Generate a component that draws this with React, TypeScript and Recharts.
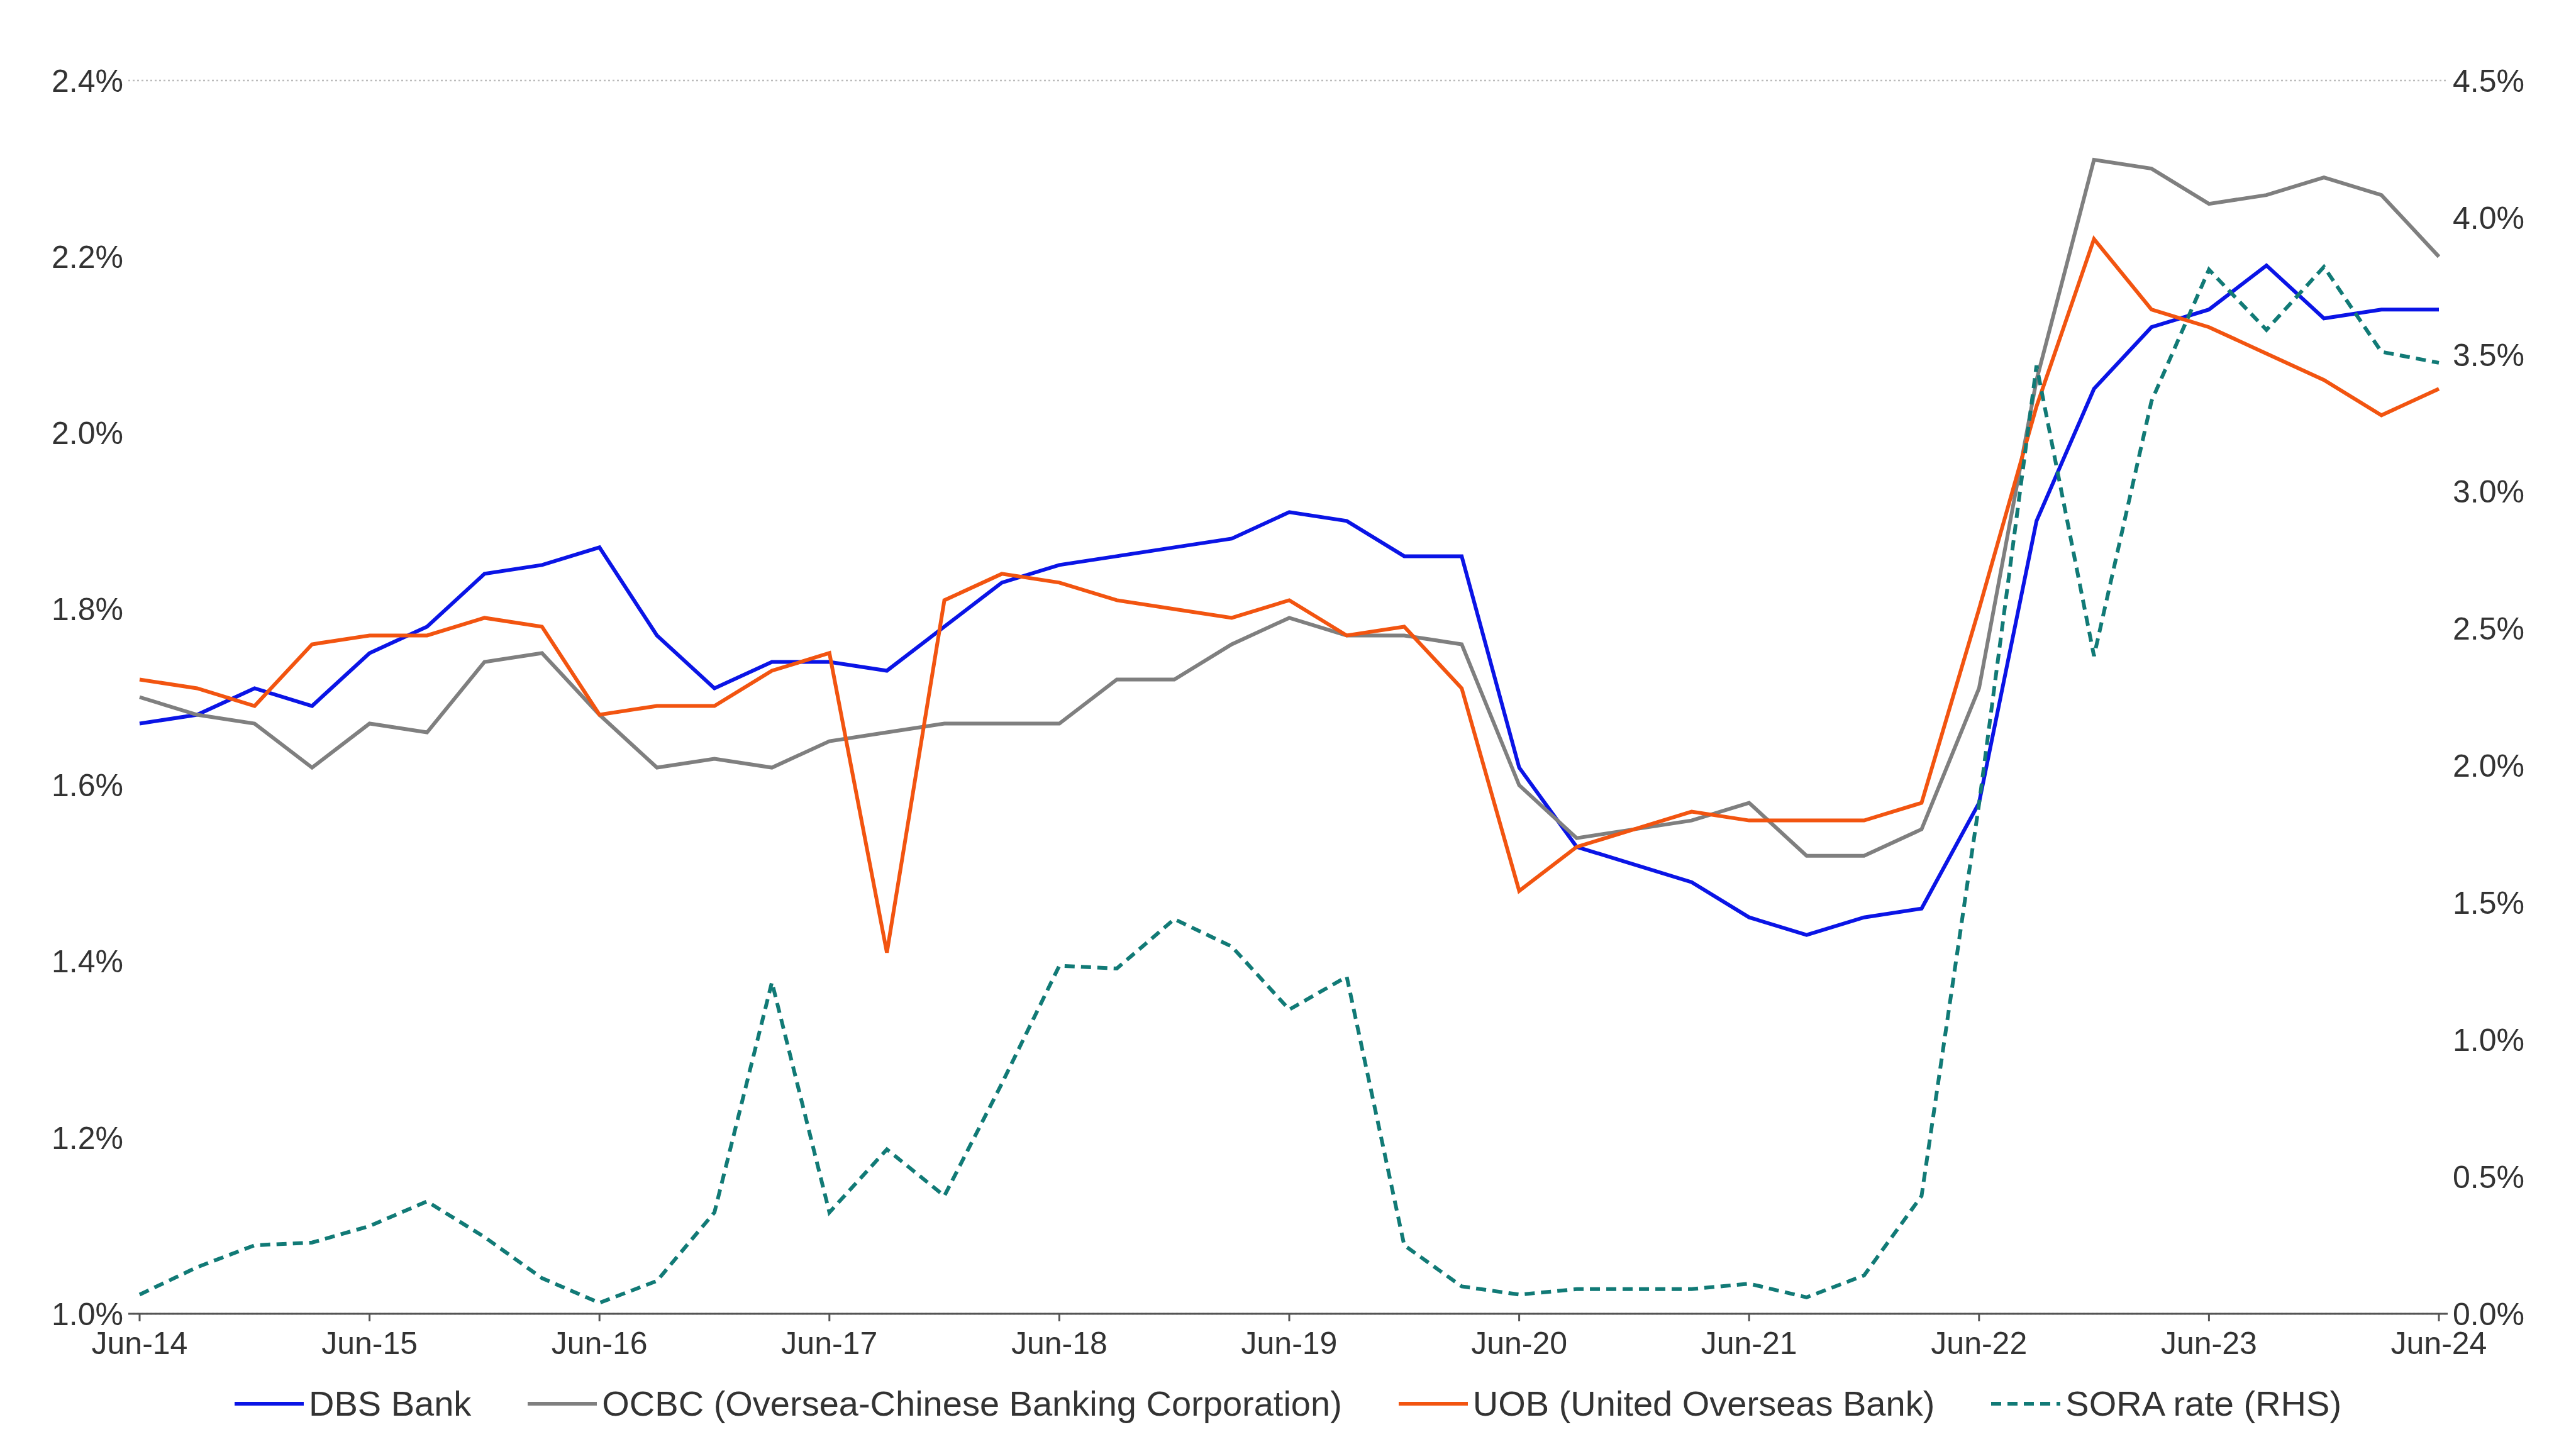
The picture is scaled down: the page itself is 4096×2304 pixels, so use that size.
import { CartesianGrid, Legend, Line, LineChart, XAxis, YAxis } from "recharts";

const labels = [
  "Jun-14","Sep-14","Dec-14","Mar-15","Jun-15","Sep-15","Dec-15","Mar-16","Jun-16","Sep-16","Dec-16",
  "Mar-17","Jun-17","Sep-17","Dec-17","Mar-18","Jun-18","Sep-18","Dec-18","Mar-19","Jun-19","Sep-19",
  "Dec-19","Mar-20","Jun-20","Sep-20","Dec-20","Mar-21","Jun-21","Sep-21","Dec-21","Mar-22","Jun-22",
  "Sep-22","Dec-22","Mar-23","Jun-23","Sep-23","Dec-23","Mar-24","Jun-24",
];
const dbs = [1.67,1.68,1.71,1.69,1.75,1.78,1.84,1.85,1.87,1.77,1.71,1.74,1.74,1.73,1.78,1.83,1.85,1.86,1.87,1.88,1.91,1.9,1.86,1.86,1.62,1.53,1.51,1.49,1.45,1.43,1.45,1.46,1.58,1.9,2.05,2.12,2.14,2.19,2.13,2.14,2.14];
const ocbc = [1.7,1.68,1.67,1.62,1.67,1.66,1.74,1.75,1.68,1.62,1.63,1.62,1.65,1.66,1.67,1.67,1.67,1.72,1.72,1.76,1.79,1.77,1.77,1.76,1.6,1.54,1.55,1.56,1.58,1.52,1.52,1.55,1.71,2.06,2.31,2.3,2.26,2.27,2.29,2.27,2.2];
const uob = [1.72,1.71,1.69,1.76,1.77,1.77,1.79,1.78,1.68,1.69,1.69,1.73,1.75,1.41,1.81,1.84,1.83,1.81,1.8,1.79,1.81,1.77,1.78,1.71,1.48,1.53,1.55,1.57,1.56,1.56,1.56,1.58,1.8,2.03,2.22,2.14,2.12,2.09,2.06,2.02,2.05];
const sora = [0.07,0.17,0.25,0.26,0.32,0.41,0.28,0.13,0.04,0.12,0.37,1.21,0.37,0.6,0.43,0.84,1.27,1.26,1.44,1.34,1.11,1.23,0.25,0.1,0.07,0.09,0.09,0.09,0.11,0.06,0.14,0.43,1.86,3.46,2.4,3.33,3.81,3.59,3.82,3.51,3.47];
const leftTicks = [1.0,1.2,1.4,1.6,1.8,2.0,2.2,2.4];
const rightTicks = [0,0.5,1,1.5,2,2.5,3,3.5,4,4.5];

const series = [
  { key: "dbs", name: "DBS Bank", color: "#0a14e6", dash: undefined },
  { key: "ocbc", name: "OCBC (Oversea-Chinese Banking Corporation)", color: "#7f7f7f", dash: undefined },
  { key: "uob", name: "UOB (United Overseas Bank)", color: "#f25410", dash: undefined },
  { key: "sora", name: "SORA rate (RHS)", color: "#117a76", dash: "16 10" },
];

const data = labels.map((label, i) => ({ label, dbs: dbs[i], ocbc: ocbc[i], uob: uob[i], sora: sora[i] }));

const tick = { fill: "#333", fontSize: 50 };

function LegendRow() {
  return (
    <div style={{ display: "flex", justifyContent: "center", gap: 90, fontSize: 56, color: "#333" }}>
      {series.map((s) => (
        <div key={s.key} style={{ display: "flex", alignItems: "center", gap: 8 }}>
          <svg width={110} height={20}>
            <line x1={0} x2={110} y1={10} y2={10} stroke={s.color} strokeWidth={6} strokeDasharray={s.dash} />
          </svg>
          <span>{s.name}</span>
        </div>
      ))}
    </div>
  );
}

export default function App() {
  return (
    <div style={{ position: "absolute", left: 0, top: 0, width: 4096, height: 2304, background: "#fff", fontFamily: "'Liberation Sans', Arial, sans-serif" }}>
      <LineChart width={4096} height={2304} data={data} margin={{ top: 128, right: 10, bottom: 40, left: 10 }}>
        <CartesianGrid vertical={false} stroke="#bbbbbb" strokeDasharray="3 4" strokeWidth={2.5} />
        <XAxis dataKey="label" interval={3} tick={{ ...tick, dy: 14 }} tickSize={12} stroke="#555" strokeWidth={3} padding={{ left: 18, right: 14 }} height={110} />
        <YAxis yAxisId="l" domain={[1.0, 2.4]} ticks={leftTicks} tickFormatter={(v: number) => `${v.toFixed(1)}%`} tick={tick} axisLine={false} tickLine={false} width={194} />
        <YAxis yAxisId="r" orientation="right" domain={[0, 4.5]} ticks={rightTicks} tickFormatter={(v: number) => `${v.toFixed(1)}%`} tick={tick} axisLine={false} tickLine={false} width={194} />
        <Legend verticalAlign="bottom" content={() => <LegendRow />} />
        {series.map((s) => (
          <Line key={s.key} yAxisId={s.key === "sora" ? "r" : "l"} dataKey={s.key} name={s.name} stroke={s.color} strokeWidth={6} strokeDasharray={s.dash} dot={false} isAnimationActive={false} />
        ))}
      </LineChart>
    </div>
  );
}
